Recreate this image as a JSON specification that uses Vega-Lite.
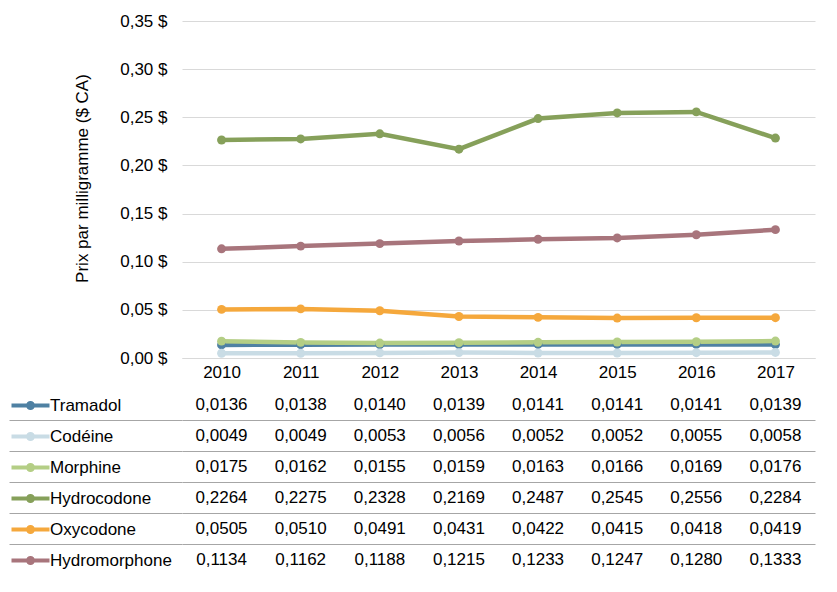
{
  "$schema": "https://vega.github.io/schema/vega-lite/v6.json",
  "padding": {"left": 8, "top": 12, "right": 20, "bottom": 5},
  "config": {
    "font": "Liberation Sans",
    "view": {"stroke": null},
    "locale": {"number": {"decimal": ",", "thousands": " ", "grouping": [3], "currency": ["", " $"]}},
    "axis": {"labelFont": "Liberation Sans", "titleFont": "Liberation Sans", "labelColor": "#000000", "titleColor": "#000000"}
  },
  "data": {
    "values": [
      {"year": "2010", "drug": "Tramadol", "price": 0.0136},
      {"year": "2011", "drug": "Tramadol", "price": 0.0138},
      {"year": "2012", "drug": "Tramadol", "price": 0.0140},
      {"year": "2013", "drug": "Tramadol", "price": 0.0139},
      {"year": "2014", "drug": "Tramadol", "price": 0.0141},
      {"year": "2015", "drug": "Tramadol", "price": 0.0141},
      {"year": "2016", "drug": "Tramadol", "price": 0.0141},
      {"year": "2017", "drug": "Tramadol", "price": 0.0139},
      {"year": "2010", "drug": "Codéine", "price": 0.0049},
      {"year": "2011", "drug": "Codéine", "price": 0.0049},
      {"year": "2012", "drug": "Codéine", "price": 0.0053},
      {"year": "2013", "drug": "Codéine", "price": 0.0056},
      {"year": "2014", "drug": "Codéine", "price": 0.0052},
      {"year": "2015", "drug": "Codéine", "price": 0.0052},
      {"year": "2016", "drug": "Codéine", "price": 0.0055},
      {"year": "2017", "drug": "Codéine", "price": 0.0058},
      {"year": "2010", "drug": "Morphine", "price": 0.0175},
      {"year": "2011", "drug": "Morphine", "price": 0.0162},
      {"year": "2012", "drug": "Morphine", "price": 0.0155},
      {"year": "2013", "drug": "Morphine", "price": 0.0159},
      {"year": "2014", "drug": "Morphine", "price": 0.0163},
      {"year": "2015", "drug": "Morphine", "price": 0.0166},
      {"year": "2016", "drug": "Morphine", "price": 0.0169},
      {"year": "2017", "drug": "Morphine", "price": 0.0176},
      {"year": "2010", "drug": "Hydrocodone", "price": 0.2264},
      {"year": "2011", "drug": "Hydrocodone", "price": 0.2275},
      {"year": "2012", "drug": "Hydrocodone", "price": 0.2328},
      {"year": "2013", "drug": "Hydrocodone", "price": 0.2169},
      {"year": "2014", "drug": "Hydrocodone", "price": 0.2487},
      {"year": "2015", "drug": "Hydrocodone", "price": 0.2545},
      {"year": "2016", "drug": "Hydrocodone", "price": 0.2556},
      {"year": "2017", "drug": "Hydrocodone", "price": 0.2284},
      {"year": "2010", "drug": "Oxycodone", "price": 0.0505},
      {"year": "2011", "drug": "Oxycodone", "price": 0.0510},
      {"year": "2012", "drug": "Oxycodone", "price": 0.0491},
      {"year": "2013", "drug": "Oxycodone", "price": 0.0431},
      {"year": "2014", "drug": "Oxycodone", "price": 0.0422},
      {"year": "2015", "drug": "Oxycodone", "price": 0.0415},
      {"year": "2016", "drug": "Oxycodone", "price": 0.0418},
      {"year": "2017", "drug": "Oxycodone", "price": 0.0419},
      {"year": "2010", "drug": "Hydromorphone", "price": 0.1134},
      {"year": "2011", "drug": "Hydromorphone", "price": 0.1162},
      {"year": "2012", "drug": "Hydromorphone", "price": 0.1188},
      {"year": "2013", "drug": "Hydromorphone", "price": 0.1215},
      {"year": "2014", "drug": "Hydromorphone", "price": 0.1233},
      {"year": "2015", "drug": "Hydromorphone", "price": 0.1247},
      {"year": "2016", "drug": "Hydromorphone", "price": 0.1280},
      {"year": "2017", "drug": "Hydromorphone", "price": 0.1333}
    ]
  },
  "spacing": 9,
  "vconcat": [
    {
      "width": 633,
      "height": 337,
      "encoding": {
        "x": {"field": "year", "type": "ordinal", "title": null,
          "axis": {"labelAngle": 0, "labelFontSize": 17, "ticks": false, "tickSize": 0, "labelPadding": 6, "domainColor": "#d9d9d9", "grid": false}},
        "y": {"field": "price", "type": "quantitative", "title": "Prix par milligramme ($ CA)",
          "scale": {"domain": [0, 0.35]},
          "axis": {"values": [0, 0.05, 0.1, 0.15, 0.2, 0.25, 0.3, 0.35], "format": "$.2f", "labelFontSize": 17, "titleFontSize": 17, "titleFontWeight": "normal", "ticks": false, "tickSize": 0, "labelPadding": 15, "titlePadding": 28, "titleY": 157, "domain": false, "gridColor": "#d9d9d9"}},
        "color": {"field": "drug", "type": "nominal",
          "scale": {"domain": ["Tramadol", "Codéine", "Morphine", "Hydrocodone", "Oxycodone", "Hydromorphone"],
                    "range": ["#4f81a3", "#c9dce5", "#b4ce85", "#86a05a", "#f5a83c", "#a8757c"]},
          "legend": {"title": null, "orient": "none", "legendX": -160, "legendY": 376, "padding": 0,
            "symbolType": "M-3.8,0L3.8,0M-0.5,0a0.5,0.5 0 1,0 1,0a0.5,0.5 0 1,0 -1,0",
            "symbolSize": 100, "symbolStrokeWidth": 4, "symbolOpacity": 1,
            "labelFontSize": 17, "labelFont": "Liberation Sans", "labelColor": "#000000",
            "labelOffset": 11, "rowPadding": 10}},
        "order": {"field": "year"}
      },
      "layer": [
        {"mark": {"type": "line", "strokeWidth": 4.5}},
        {"mark": {"type": "circle", "size": 80, "opacity": 1}}
      ]
    },
    {
      "width": 633,
      "height": 186,
      "mark": {"type": "text", "fontSize": 17, "font": "Liberation Sans", "color": "#000000"},
      "encoding": {
        "x": {"field": "year", "type": "ordinal", "axis": null},
        "y": {"field": "drug", "type": "nominal",
          "sort": ["Tramadol", "Codéine", "Morphine", "Hydrocodone", "Oxycodone", "Hydromorphone"],
          "scale": {"type": "band", "paddingInner": 0, "paddingOuter": 0},
          "axis": {"title": null, "labels": false, "domain": false, "ticks": true, "tickSize": 173, "tickColor": "#a6a6a6",
            "grid": true, "gridColor": "#a6a6a6", "bandPosition": 1,
            "values": ["Tramadol", "Codéine", "Morphine", "Hydrocodone", "Oxycodone"]}},
        "text": {"field": "price", "type": "quantitative", "format": ".4f"}
      }
    }
  ]
}
